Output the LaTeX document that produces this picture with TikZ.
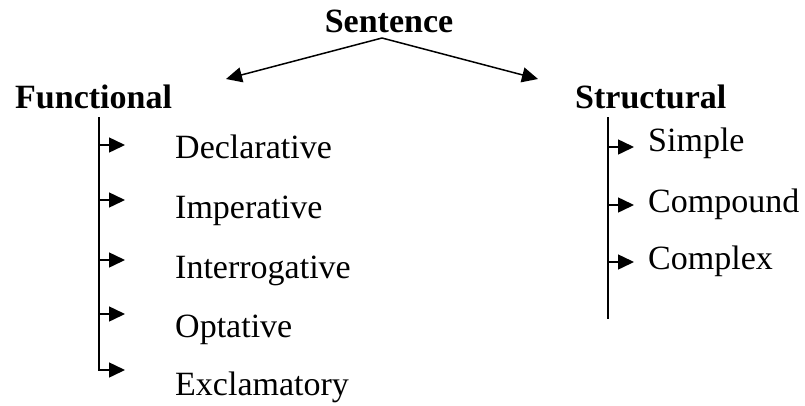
\documentclass[tikz,border=0pt]{standalone}
\usepackage{fontspec}
\setmainfont{Liberation Serif}
\usetikzlibrary{arrows.meta}
\begin{document}
\begin{tikzpicture}[x=1pt,y=-1pt,
  lbl/.style={inner sep=0pt,anchor=base west,font=\fontsize{34}{40}\selectfont},
  head/.style={lbl,font=\fontsize{34}{40}\selectfont\bfseries},
  arr/.style={line width=1.5pt,-{Triangle[length=16pt,width=15pt]}},
  stem/.style={line width=1.5pt}]
\useasboundingbox (0,0) rectangle (805,405);
% headings
\node[head,anchor=base] (sent) at (389,32) {Sentence};
\node[head] (func) at (15,108) {Functional};
\node[head] (struc) at (575,108) {Structural};
% top arrows
\coordinate (apex) at (382,38);
\coordinate (ltip) at (226,79);
\coordinate (rtip) at (538,79);
\draw[arr] (apex) -- (ltip);
\draw[arr] (apex) -- (rtip);
% functional branch
\coordinate (ftop) at (99,117);
\coordinate (fbot) at (99,371);
\draw[stem] (ftop) -- (fbot);
\foreach \n/\t/\ay/\ty in {d/Declarative/145/158, i/Imperative/200/218, q/Interrogative/260/278, o/Optative/314/337, e/Exclamatory/370/395}{
  \node[lbl] (f\n) at (175,\ty) {\t};
  \coordinate (fs\n) at (99,\ay);
  \coordinate (ft\n) at (125,\ay);
  \draw[arr] (fs\n) -- (ft\n);
}
% structural branch
\coordinate (stop) at (608,117);
\coordinate (sbot) at (608,319);
\draw[stem] (stop) -- (sbot);
\foreach \n/\t/\ay/\ty in {s/Simple/147/151, c/Compound/205/212, x/Complex/262/269}{
  \node[lbl] (s\n) at (648,\ty) {\t};
  \coordinate (ss\n) at (608,\ay);
  \coordinate (st\n) at (634,\ay);
  \draw[arr] (ss\n) -- (st\n);
}
\end{tikzpicture}
\end{document}
